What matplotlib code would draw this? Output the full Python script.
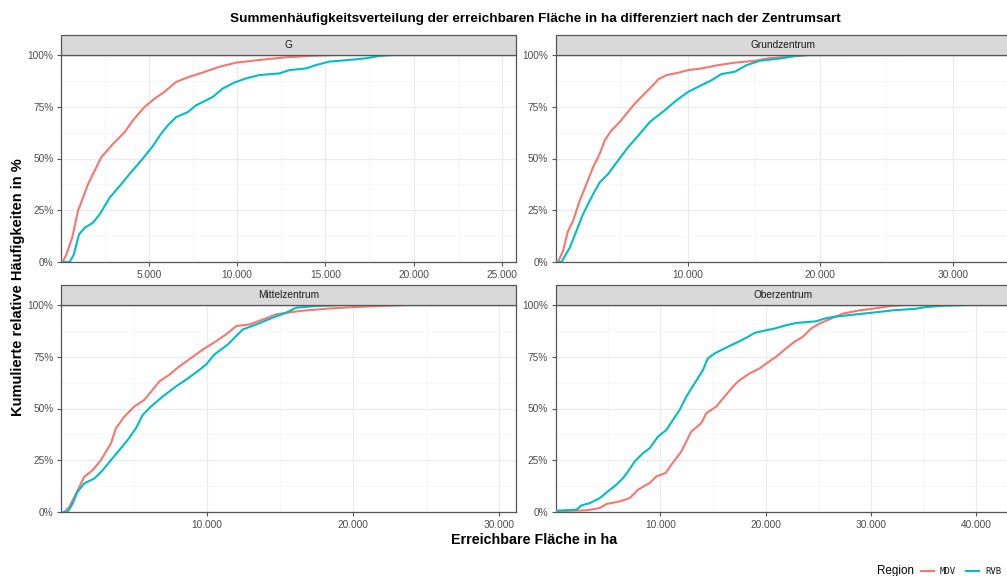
import matplotlib.pyplot as plt
from matplotlib.lines import Line2D
from matplotlib.patches import Rectangle
from matplotlib.ticker import FuncFormatter, MultipleLocator

plt.rcParams["font.family"] = ["Liberation Sans", "DejaVu Sans"]

panels = ["G", "Grundzentrum", "Mittelzentrum", "Oberzentrum"]
regions = ["MDV", "RVB"]
colors = {"MDV": "#F8766D", "RVB": "#00BFC4"}

# Fläche in ha (x) und kumulierte Anteile (y)
g_mdv_x = [30, 150, 330, 670, 1000, 1140, 1560, 2310, 2970, 3630, 4100, 4760, 5330, 5890,
           6550, 7300, 7870, 9000, 9940, 11260, 12770, 14460, 15600]
g_mdv_y = [0, 0.005, 0.035, 0.12, 0.25, 0.28, 0.376, 0.506, 0.57, 0.627, 0.684, 0.749, 0.789,
           0.822, 0.87, 0.895, 0.91, 0.943, 0.963, 0.976, 0.989, 0.997, 1.0]
g_rvb_x = [30, 520, 750, 1050, 1370, 1840, 2220, 2780, 3440, 3910, 4570, 5230, 5700, 6080,
           6550, 7210, 7680, 8620, 9190, 9850, 10510, 11260, 12390, 12960, 13900, 14460,
           15220, 16350, 17290, 18040, 18800, 21620]
g_rvb_y = [0, 0, 0.035, 0.133, 0.165, 0.19, 0.23, 0.31, 0.376, 0.425, 0.49, 0.56, 0.62, 0.66,
           0.70, 0.724, 0.757, 0.797, 0.838, 0.867, 0.887, 0.903, 0.911, 0.927, 0.935, 0.951,
           0.968, 0.976, 0.984, 0.995, 1.0, 1.0]

gz_mdv_x = [30, 220, 590, 970, 1350, 1850, 2360, 2860, 3360, 3740, 4240, 4870, 5380, 6010,
            6760, 7390, 7770, 8400, 9280, 10040, 11040, 12300, 13560, 15070, 16080, 17590,
            19100, 26530]
gz_mdv_y = [0, 0, 0.052, 0.149, 0.198, 0.295, 0.376, 0.457, 0.522, 0.587, 0.635, 0.676, 0.716,
            0.765, 0.814, 0.854, 0.882, 0.903, 0.914, 0.927, 0.935, 0.951, 0.963, 0.972, 0.984,
            0.992, 1.0, 1.0]
gz_rvb_x = [30, 470, 1100, 1600, 2100, 2860, 3360, 3990, 4750, 5500, 6390, 7140, 8270, 9160,
            10040, 11040, 11800, 12550, 13560, 14440, 15450, 17090, 18100, 19100, 21870]
gz_rvb_y = [0, 0, 0.068, 0.149, 0.23, 0.327, 0.384, 0.425, 0.49, 0.554, 0.619, 0.676, 0.733,
            0.781, 0.822, 0.854, 0.878, 0.908, 0.919, 0.951, 0.972, 0.984, 0.995, 1.0, 1.0]

mz_mdv_x = [30, 250, 590, 940, 1280, 1620, 2190, 2760, 3450, 3790, 4360, 5050, 5730, 6300,
            6760, 7440, 8130, 8930, 9730, 10640, 11320, 12010, 12920, 13830, 14750, 16350,
            18170, 19770, 21830, 23880, 26050]
mz_mdv_y = [0, 0, 0.024, 0.073, 0.121, 0.17, 0.202, 0.251, 0.332, 0.405, 0.461, 0.51, 0.542,
            0.591, 0.631, 0.663, 0.704, 0.744, 0.785, 0.825, 0.858, 0.898, 0.906, 0.93, 0.955,
            0.971, 0.982, 0.989, 0.995, 1.0, 1.0]
mz_rvb_x = [30, 480, 820, 1160, 1620, 2310, 2880, 3450, 4020, 4590, 5160, 5620, 6190, 6990,
            7900, 8580, 9380, 9950, 10520, 11440, 12010, 12470, 13380, 14520, 15430, 16120,
            17490, 19310, 31150]
mz_rvb_y = [0, 0, 0.04, 0.097, 0.138, 0.162, 0.202, 0.251, 0.299, 0.348, 0.405, 0.469, 0.51,
            0.558, 0.607, 0.639, 0.68, 0.712, 0.761, 0.809, 0.85, 0.882, 0.906, 0.939, 0.963,
            0.987, 0.995, 1.0, 1.0]

oz_mdv_x = [30, 2970, 4230, 4870, 6130, 7080, 7870, 8970, 9610, 10490, 11030, 11980, 12450,
            12920, 13870, 14350, 15290, 16080, 16870, 17510, 18450, 19400, 20030, 20980, 21930,
            22720, 23510, 24300, 25090, 26200, 27300, 28880, 30150, 31730, 33310, 43300]
oz_mdv_y = [0.003, 0.008, 0.019, 0.039, 0.051, 0.067, 0.108, 0.14, 0.172, 0.188, 0.228, 0.292,
            0.34, 0.388, 0.429, 0.477, 0.509, 0.557, 0.605, 0.637, 0.669, 0.693, 0.717, 0.75,
            0.79, 0.822, 0.846, 0.886, 0.91, 0.934, 0.958, 0.974, 0.982, 0.994, 1.0, 1.0]
oz_rvb_x = [30, 2020, 2500, 3290, 4230, 5020, 5810, 6450, 6920, 7550, 8340, 8970, 9760, 10550,
            11190, 11820, 12450, 13240, 14030, 14500, 15140, 15770, 16720, 17510, 18300, 18930,
            20030, 20820, 21930, 22880, 24770, 25560, 26350, 28250, 30150, 32040, 34250, 35200,
            37100, 39310, 43300]
oz_rvb_y = [0.006, 0.011, 0.032, 0.043, 0.067, 0.10, 0.132, 0.164, 0.196, 0.244, 0.284, 0.308,
            0.364, 0.396, 0.445, 0.493, 0.557, 0.621, 0.685, 0.742, 0.766, 0.782, 0.806, 0.825,
            0.846, 0.865, 0.878, 0.886, 0.902, 0.913, 0.921, 0.934, 0.942, 0.953, 0.963, 0.974,
            0.982, 0.99, 0.997, 1.0, 1.0]

x_max = [25800, 34400, 31150, 43300]
x_step = [5000, 10000, 10000, 10000]

series = {
    "G": {"MDV": (g_mdv_x, g_mdv_y), "RVB": (g_rvb_x, g_rvb_y)},
    "Grundzentrum": {"MDV": (gz_mdv_x, gz_mdv_y), "RVB": (gz_rvb_x, gz_rvb_y)},
    "Mittelzentrum": {"MDV": (mz_mdv_x, mz_mdv_y), "RVB": (mz_rvb_x, mz_rvb_y)},
    "Oberzentrum": {"MDV": (oz_mdv_x, oz_mdv_y), "RVB": (oz_rvb_x, oz_rvb_y)},
}

W, H = 1007, 576
fig = plt.figure(figsize=(W / 100, H / 100), dpi=100)

# Panel-Positionen in Pixeln (links, oben, rechts, unten)
boxes = [(61, 55, 516, 262), (555.5, 55, 1011, 262),
         (61, 305, 516, 512), (555.5, 305, 1011, 512)]
strip_h = 20

border = "#555555"
thousands = FuncFormatter(lambda v, p: f"{int(v):,}".replace(",", "."))
percent = FuncFormatter(lambda v, p: f"{v * 100:.0f}%")

for i, name in enumerate(panels):
    l, t, r, b = boxes[i]
    ax = fig.add_axes([l / W, 1 - b / H, (r - l) / W, (b - t) / H])
    for reg in regions:
        xs, ys = series[name][reg]
        ax.plot(xs, ys, color=colors[reg], lw=1.5, solid_capstyle="butt", zorder=3)
    ax.set_xlim(30, x_max[i])
    ax.set_ylim(0, 1)
    ax.xaxis.set_major_locator(MultipleLocator(x_step[i]))
    ax.xaxis.set_minor_locator(MultipleLocator(x_step[i] / 2))
    ax.yaxis.set_major_locator(MultipleLocator(0.25))
    ax.yaxis.set_minor_locator(MultipleLocator(0.125))
    ax.xaxis.set_major_formatter(thousands)
    ax.yaxis.set_major_formatter(percent)
    ax.grid(which="major", color="#EBEBEB", lw=0.9)
    ax.grid(which="minor", color="#F4F4F4", lw=0.5)
    ax.set_axisbelow(True)
    ax.tick_params(which="major", length=3, width=0.8, color=border, labelsize=7.3,
                   labelcolor="#4D4D4D", pad=2.5)
    ax.tick_params(which="minor", length=0)
    for s in ax.spines.values():
        s.set_color(border)
        s.set_linewidth(0.9)
    # Facettenstreifen
    sh = strip_h / (b - t)
    ax.add_patch(Rectangle((0, 1), 1, sh, transform=ax.transAxes, clip_on=False,
                           facecolor="#D9D9D9", edgecolor=border, lw=0.9, zorder=5))
    ax.text(0.5, 1 + sh / 2, name, transform=ax.transAxes, ha="center", va="center",
            fontsize=7.3, color="#1A1A1A", zorder=6)

fig.text(535 / W, 1 - 19 / H,
         "Summenhäufigkeitsverteilung der erreichbaren Fläche in ha differenziert nach der Zentrumsart",
         ha="center", va="center", fontsize=9.7, fontweight="bold")
fig.text(534 / W, 1 - 540 / H, "Erreichbare Fläche in ha", ha="center", va="center",
         fontsize=10.3, fontweight="bold")
fig.text(18 / W, 1 - 287 / H, "Kumulierte relative Häufigkeiten in %", ha="center",
         va="center", rotation=90, fontsize=10.5, fontweight="bold")

# Legende unten rechts
fig.text(877 / W, 1 - 571 / H, "Region", ha="left", va="center", fontsize=8.4)
for reg, x0 in zip(regions, [921, 966]):
    fig.add_artist(Line2D([x0 / W, (x0 + 13) / W], [1 - 571 / H] * 2, color=colors[reg], lw=1.5))
    fig.text((x0 + 19) / W, 1 - 571 / H, reg, ha="left", va="center", fontsize=6.5,
             family="DejaVu Sans Mono", color="#1A1A1A")

fig.savefig("out.png", dpi=100)
